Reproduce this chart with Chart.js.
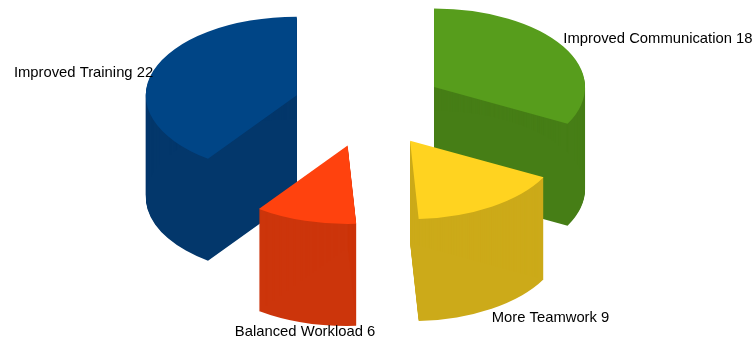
<!DOCTYPE html>
<html>
<head>
<meta charset="utf-8">
<title>Pie chart</title>
<script src="https://cdn.jsdelivr.net/npm/chart.js@4/dist/chart.umd.min.js"></script>
<style>
  html, body { margin: 0; padding: 0; background: #fff; }
  canvas { display: block; }
</style>
</head>
<body>
<canvas id="pie" width="755" height="341"></canvas>
<script>
const categories = ['Improved Communication', 'More Teamwork', 'Balanced Workload', 'Improved Training'];
const values = [18, 9, 6, 22];
const topColors = ['#579d1c', '#ffd320', '#ff420e', '#004586'];
const wallColors = ['#467e16', '#ccaa19', '#cc350b', '#03376b'];

// look of the fake 3D
const tilt = 0.52;       // vertical squash of the disc
const explode = 0.503;   // slice pull-out, as a share of the radius
const depth = 102;       // wall height in px
const labelGap = 2;      // nudge for labels that are not sitting above the slice

// works out where a slice really sits once tilted and pulled out
function sliceGeometry(arc) {
    const mid = (arc.startAngle + arc.endAngle) / 2;
    const r = arc.outerRadius;
    return {
        mid,
        r,
        cx: arc.x + Math.cos(mid) * r * explode,
        cy: arc.y + Math.sin(mid) * r * explode * tilt
    };
}

// the walls are just the slice outline stacked downwards
function drawWalls(ctx, arc, g, color) {
    const rx = g.r;
    const ry = g.r * tilt;
    ctx.fillStyle = color;
    for (let d = 1; d <= depth; d++) {
        ctx.beginPath();
        ctx.moveTo(g.cx, g.cy + d);
        ctx.ellipse(g.cx, g.cy + d, rx, ry, 0, arc.startAngle, arc.endAngle);
        ctx.closePath();
        ctx.fill();
    }
}

function drawLabel(ctx, g, text) {
    const cos = Math.cos(g.mid);
    const sin = Math.sin(g.mid);
    const x = g.cx + cos * g.r;
    let y = g.cy + sin * g.r * tilt;

    ctx.textAlign = Math.abs(cos) < 0.3 ? 'center' : (cos > 0 ? 'left' : 'right');
    if (sin > 0) {
        ctx.textBaseline = 'top';
        y += depth + labelGap;
    } else if (sin < -0.4) {
        ctx.textBaseline = 'bottom';
    } else {
        ctx.textBaseline = 'middle';
        y += labelGap;
    }
    ctx.fillText(text, x, y);
}

const pie3d = {
    id: 'pie3d',
    beforeDatasetsDraw(chart) {
        const ctx = chart.ctx;
        const arcs = chart.getDatasetMeta(0).data;

        // back slices first so the front ones cover them
        const order = arcs.map((arc, i) => i)
            .sort((a, b) => sliceGeometry(arcs[a]).cy - sliceGeometry(arcs[b]).cy);

        order.forEach(i => {
            const arc = arcs[i];
            const g = sliceGeometry(arc);
            ctx.save();
            drawWalls(ctx, arc, g, wallColors[i]);
            ctx.translate(g.cx, g.cy);
            ctx.scale(1, tilt);
            ctx.translate(-arc.x, -arc.y);
            arc.draw(ctx);
            ctx.restore();
        });

        ctx.save();
        ctx.fillStyle = '#000';
        ctx.font = '14.8px "Liberation Sans"';
        order.forEach(i => {
            drawLabel(ctx, sliceGeometry(arcs[i]), categories[i] + ' ' + values[i]);
        });
        ctx.restore();

        return false;
    }
};

new Chart(document.getElementById('pie').getContext('2d'), {
    type: 'pie',
    data: {
        labels: categories,
        datasets: [{
            data: values,
            backgroundColor: topColors,
            borderWidth: 0
        }]
    },
    options: {
        responsive: false,
        animation: false,
        radius: 151,
        layout: { padding: { right: 17, bottom: 126 } },
        plugins: {
            legend: { display: false },
            tooltip: { enabled: false }
        }
    },
    plugins: [pie3d]
});
</script>
</body>
</html>
